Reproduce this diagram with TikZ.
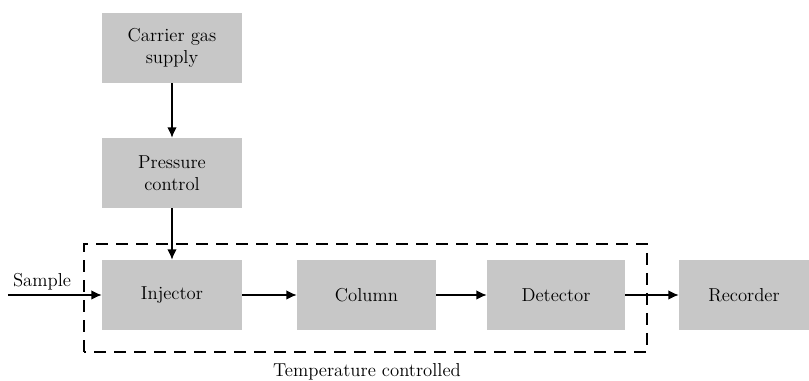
\documentclass[tikz,border=0pt]{standalone}
\usepackage{fontspec}
\usepackage{tikz}
\usetikzlibrary{arrows.meta}

\tikzset{
    block/.style={fill=black!22,minimum width=3.5cm,minimum height=1.75cm,align=center,inner sep=0pt},
    flow/.style={-{Latex[length=2.6mm,width=2.4mm]},line width=1pt,black}
}

\begin{document}
\begin{tikzpicture}[font=\fontsize{13.3}{16}\selectfont]
        \useasboundingbox (0,0) rectangle (20.225,9.525);

        % temperature controlled zone
        \draw[line width=1pt,dash pattern=on 0.3cm off 0.2cm] (2.1,0.725) rectangle (16.175,3.425);
        \node (temp) at (9.175,0.225) {Temperature controlled};

        \node[block] (carrier) at (4.3,8.325) {Carrier gas\\supply};
        \node[block] (pressure) at (4.3,5.2) {Pressure\\control};
        \node[block] (injector) at (4.3,2.15) {Injector};
        \node[block,minimum width=3.475cm] (column) at (9.1625,2.15) {Column};
        \node[block,minimum width=3.45cm] (detector) at (13.9,2.15) {Detector};
        \node[block,minimum width=3.25cm] (recorder) at (18.6,2.15) {Recorder};

        \coordinate (in) at (0.2,2.15);
        \node (sample) at (1.05,2.475) {Sample};

        \draw[flow] (carrier)--(pressure);
        \draw[flow] (pressure)--(injector);
        \draw[flow] (in)--(injector);
        \draw[flow] (injector)--(column);
        \draw[flow] (column)--(detector);
        \draw[flow] (detector)--(recorder);
    \end{tikzpicture}
\end{document}
